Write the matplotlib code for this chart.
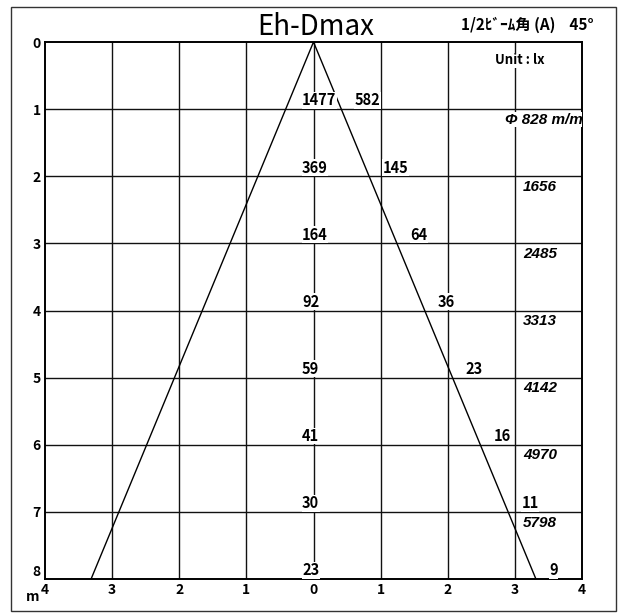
import numpy as np
import matplotlib
matplotlib.use('Agg')
import matplotlib.pyplot as plt
from matplotlib.patches import Rectangle

plt.rcParams['font.family'] = ['Noto Sans CJK JP', 'DejaVu Sans']

# distances (m) and the values printed at each one
distance = [1, 2, 3, 4, 5, 6, 7, 8]
center_lux = [1477, 369, 164, 92, 59, 41, 30, 23]
edge_lux = [582, 145, 64, 36, 23, 16, 11, 9]
diameter_mm = [828, 1656, 2485, 3313, 4142, 4970, 5798, 6627]

# axis labels
x_ticks = [-4, -3, -2, -1, 0, 1, 2, 3, 4]
x_ticklabels = ['4', '3', '2', '1', '0', '1', '2', '3', '4']
y_ticks = [0, 1, 2, 3, 4, 5, 6, 7, 8]

title = 'Eh-Dmax'
beam_text = '1/2ﾋﾞｰﾑ角 (A)    45°'
unit_text = 'Unit : lx'

fig = plt.figure(figsize=(6.23, 6.13), dpi=100)
ax = fig.add_axes([45 / 623, 1 - 579 / 613, 537 / 623, 537 / 613])

# outer frame around whole chart
fig.patches.append(Rectangle((11 / 623, 1 - 611 / 613), 605 / 623, 604 / 613,
                             transform=fig.transFigure, fill=False,
                             edgecolor='#333333', linewidth=1.0))

ax.set_xlim(-4, 4)
ax.set_ylim(8, 0)

for x in x_ticks[1:-1]:
    ax.axvline(x, color='#111111', linewidth=1.0, zorder=1)
for y in y_ticks[1:-1]:
    ax.axhline(y, color='#111111', linewidth=1.0, zorder=1)

# beam edges: radius at the farthest distance
r_end = diameter_mm[-1] / 2000
ax.plot([-r_end, 0, r_end], [distance[-1], 0, distance[-1]],
        color='black', linewidth=1.0, zorder=2)

box = dict(facecolor='white', edgecolor='none', pad=0.3)
for i, d in enumerate(distance):
    r = diameter_mm[i] / 2000
    ax.text(-0.17, d - 0.13, str(center_lux[i]), ha='left', va='center',
            fontsize=10.5, fontweight='bold', bbox=box, zorder=3)
    ax.text(r + 0.2, d - 0.13, str(edge_lux[i]), ha='left', va='center',
            fontsize=10.5, fontweight='bold', bbox=box, zorder=3)
    if i < len(distance) - 1:
        label = str(diameter_mm[i])
        xpos = 3.12
        if i == 0:
            label = 'Φ ' + label + ' m/m'
            xpos = 2.86
        ax.text(xpos, d + 0.16, label, ha='left', va='center',
                fontsize=11, style='italic', fontweight='bold',
                family='Liberation Sans', bbox=box, zorder=3, clip_on=True)

ax.text(2.7, 0.27, unit_text, ha='left', va='center', fontsize=9.5,
        fontweight='bold', bbox=box, zorder=3)

ax.set_xticks(x_ticks)
ax.set_xticklabels(x_ticklabels, fontsize=10, fontweight='bold')
ax.set_yticks(y_ticks)
ax.set_yticklabels([str(v) for v in y_ticks], fontsize=10, fontweight='bold')
ax.tick_params(length=0, pad=3)
ax.get_yticklabels()[-1].set_va('bottom')

for s in ax.spines.values():
    s.set_linewidth(1.4)
    s.set_color('black')

fig.text(33 / 623, 1 - 597 / 613, 'm', ha='center', va='center',
         fontsize=10, fontweight='bold')
fig.text(316 / 623, 1 - 27 / 613, title, ha='center', va='center', fontsize=20)
fig.text(594 / 623, 1 - 25 / 613, beam_text, ha='right', va='center',
         fontsize=11, fontweight='bold')

fig.savefig('out.png', dpi=100)
